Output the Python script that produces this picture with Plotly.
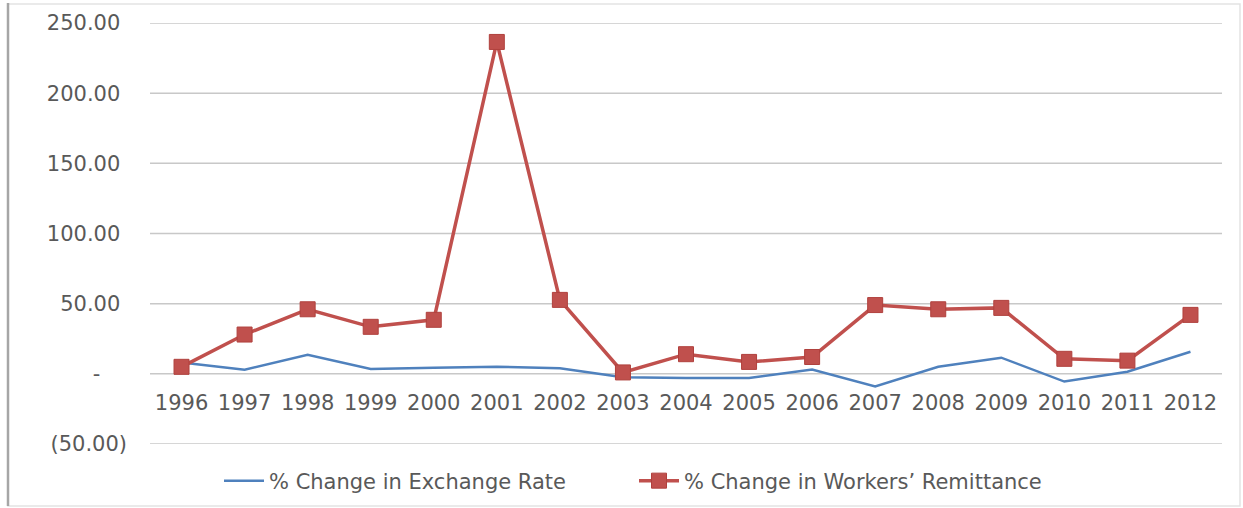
import plotly.graph_objects as go

# Yearly percentage changes
years = [str(y) for y in range(1996, 2013)]
exchange_rate = [8.0, 3.0, 13.5, 3.5, 4.3, 5.0, 4.0, -2.5, -3.0, -3.0, 3.0, -9.0, 5.0, 11.5, -5.5, 1.5, 15.7]
remittance = [5.0, 28.0, 46.0, 33.5, 38.5, 236.5, 52.7, 1.0, 14.0, 8.5, 12.0, 49.0, 46.0, 47.0, 10.7, 9.4, 42.0]

# Accounting-style axis labels
y_ticks = [-50, 0, 50, 100, 150, 200, 250]
y_labels = ["(50.00)", "-\u00a0\u00a0\u00a0\u00a0", "50.00\u00a0", "100.00\u00a0", "150.00\u00a0", "200.00\u00a0", "250.00\u00a0"]

BLUE = "#4F81BD"
RED = "#C0504D"
TEXT = "#595959"
GRID = "#C8C8C8"
FONT = "DejaVu Sans"

fig = go.Figure()
fig.add_trace(go.Scatter(
    x=years, y=exchange_rate, mode="lines",
    name="% Change in Exchange Rate",
    line=dict(color=BLUE, width=2.5),
))
fig.add_trace(go.Scatter(
    x=years, y=remittance, mode="lines+markers",
    name="% Change in Workers\u2019 Remittance",
    line=dict(color=RED, width=3.5),
    marker=dict(symbol="square", size=15, color=RED, line=dict(color="#B0403D", width=1)),
))

L, R, T, B = 150, 21, 23, 64
W, H = 1243, 508
pw, ph = W - L - R, H - T - B

def px(x):
    return (x - L) / pw

def py(y):
    return (H - B - y) / ph

# Horizontal gridlines drawn as shapes so the edge values are shown too
grid_shapes = [
    dict(type="line", xref="paper", yref="y", x0=0, x1=1, y0=v, y1=v,
         line=dict(color=GRID, width=1.5), layer="below")
    for v in y_ticks
]

fig.update_layout(
    width=W, height=H,
    margin=dict(l=L, r=R, t=T, b=B, autoexpand=False),
    paper_bgcolor="white", plot_bgcolor="white",
    font=dict(family=FONT, color=TEXT, size=20),
    showlegend=True,
    legend=dict(
        orientation="h", x=px(219), xanchor="left", y=py(481), yanchor="middle",
        font=dict(family=FONT, size=21, color=TEXT),
        itemwidth=40, entrywidth=360,
    ),
    xaxis=dict(
        type="category", range=[-0.5, len(years) - 0.5],
        anchor="free", position=50 / 300,
        showgrid=False, showline=False, ticks="", zeroline=False,
        tickfont=dict(family=FONT, size=21, color=TEXT),
        ticklabelstandoff=14,
    ),
    yaxis=dict(
        range=[-50, 250], tickvals=y_ticks, ticktext=y_labels,
        showgrid=False, zeroline=False, showline=False, ticks="",
        tickfont=dict(family=FONT, size=21, color=TEXT),
        ticklabelstandoff=22,
    ),
    shapes=grid_shapes + [
        dict(type="rect", xref="paper", yref="paper",
             x0=px(8), x1=px(1240), y0=py(506), y1=py(4),
             line=dict(color="#E3E3E3", width=1.5), layer="below"),
        dict(type="line", xref="paper", yref="paper",
             x0=px(8), x1=px(8), y0=py(506), y1=py(3),
             line=dict(color="#A6A6A6", width=2.5), layer="below"),
    ],
)

fig.write_html("out.html")
